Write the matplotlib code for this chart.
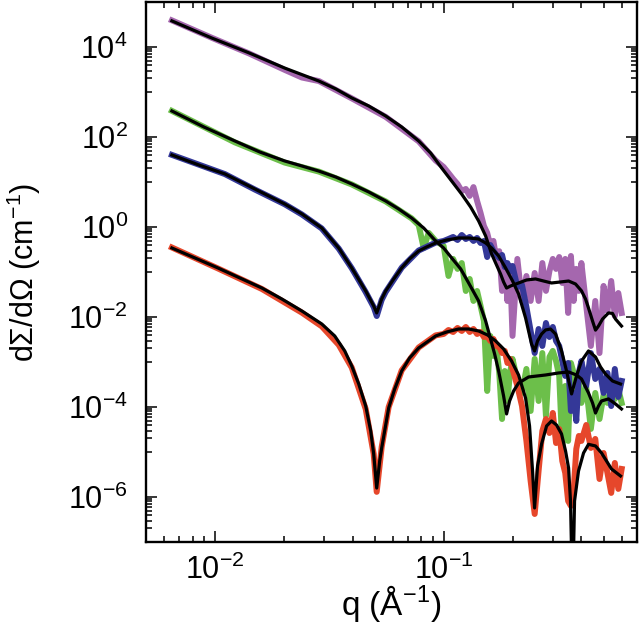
import matplotlib

matplotlib.use('Agg')

import matplotlib.pyplot as plt
from matplotlib.ticker import FixedLocator, NullFormatter

plt.rcParams['font.family'] = ['Liberation Sans', 'DejaVu Sans']
plt.rcParams['mathtext.fontset'] = 'custom'
plt.rcParams['mathtext.rm'] = 'Liberation Sans'
plt.rcParams['mathtext.it'] = 'Liberation Sans:italic'
plt.rcParams['mathtext.bf'] = 'Liberation Sans:bold'

# ---- measured data (low q part per sample, shared high q grid) ----
q_hi = [0.10, 0.105, 0.11, 0.115, 0.12, 0.125, 0.13, 0.135, 0.14, 0.145,
        0.15, 0.155, 0.16, 0.165, 0.17, 0.175, 0.18, 0.185, 0.19, 0.195,
        0.20, 0.21, 0.22, 0.23, 0.24, 0.25, 0.26, 0.27, 0.28, 0.29, 0.30,
        0.31, 0.32, 0.33, 0.34, 0.35, 0.36, 0.37, 0.38, 0.39, 0.40,
        0.42, 0.44, 0.46, 0.48, 0.50, 0.52, 0.54, 0.56, 0.58, 0.60]

purple_q_lo = [0.00649, 0.0097, 0.0141, 0.0202, 0.0240, 0.0285, 0.0397, 0.0558, 0.0778, 0.0923]
purple_I_lo = [3.9e4, 1.6e4, 7.2e3, 3.1e3, 2.1e3, 1.75e3, 720, 280, 80, 30]
purple_I_hi = [21.5, 15.8, 11.7, 9.0, 6.3, 7.0, 4.9, 7.7, 3.8, 2.05,
               1.05, 0.74, 0.38, 0.49, 0.195, 0.29, 0.038, 0.158, 0.0227, 0.136,
               0.0038, 0.195, 0.0227, 0.0815, 0.0227, 0.095, 0.0227, 0.158, 0.038, 0.105, 0.195,
               0.117, 0.215, 0.057, 0.195, 0.0123, 0.227, 0.0227, 0.117, 0.038, 0.158,
               0.0176, 0.00227, 0.0227, 0.00158, 0.0489, 0.0136, 0.063, 0.0105, 0.0341, 0.0123]

green_q_lo = [0.00649, 0.01223, 0.0202, 0.0285, 0.0397, 0.0558, 0.0725, 0.0778, 0.0818, 0.0860, 0.0923]
green_I_lo = [380, 76, 27, 17, 8.8, 3.7, 1.55, 1.1, 0.34, 0.74, 0.49]
green_I_hi = [0.378, 0.0815, 0.195, 0.117, 0.158, 0.0378, 0.0699, 0.0227, 0.0378, 0.0176,
              0.00815, 2.27e-4, 3.78e-3, 1.36e-3, 2.27e-3, 5.7e-4, 5.4e-5, 6.3e-4, 1.36e-4, 5.7e-4,
              1.17e-3, 3.78e-4, 2.05e-4, 7.0e-4, 8.15e-5, 1.17e-3, 1.36e-4, 1.58e-3, 6.3e-5, 1.29e-3, 1.76e-3,
              1.05e-3, 4.9e-4, 1.36e-5, 2.93e-4, 1.76e-5, 9.5e-4, 5.7e-4, 2.27e-4, 4.2e-4, 1.23e-4,
              2.78e-4, 3.25e-5, 2.05e-4, 5.4e-5, 1.85e-4, 1.23e-4, 2.27e-4, 1.5e-4, 2.5e-4, 1.23e-4]

blue_q_lo = [0.00649, 0.01106, 0.01495, 0.0202, 0.0240, 0.0293, 0.0348, 0.0397, 0.0456,
             0.0495, 0.0510, 0.0536, 0.0558, 0.0656, 0.0778, 0.0923]
blue_I_lo = [40, 15, 6.8, 3.2, 1.9, 0.93, 0.33, 0.12, 0.036, 0.0165, 0.0105, 0.024, 0.036, 0.125, 0.30, 0.45]
blue_I_hi = [0.489, 0.541, 0.600, 0.514, 0.664, 0.541, 0.600, 0.489, 0.570, 0.441,
             0.489, 0.215, 0.398, 0.293, 0.239, 0.205, 0.239, 0.129, 0.158, 0.105,
             0.136, 0.0464, 0.0514, 0.0167, 4.89e-3, 1.58e-3, 5.41e-3, 2.27e-3, 7.36e-3, 3.59e-3, 6.0e-3,
             2.93e-3, 2.27e-3, 1.05e-3, 4.89e-4, 9.5e-4, 8.15e-5, 2.05e-4, 4.89e-5, 5.7e-4, 1.05e-3,
             2.93e-4, 1.58e-3, 4.19e-4, 6.99e-4, 2.05e-4, 5.7e-4, 1.05e-4, 6.99e-4, 1.67e-4, 3.78e-4]

red_q_lo = [0.00649, 0.01031, 0.01604, 0.0240, 0.02933, 0.03479, 0.03966, 0.04564, 0.04946,
            0.05098, 0.05361, 0.05751, 0.06556, 0.07779, 0.09228]
red_I_lo = [0.35, 0.12, 0.042, 0.0125, 6.2e-3, 2.4e-3, 7.5e-4, 9e-5, 9e-6, 1.3e-6, 1.3e-5, 1e-4, 6.5e-4, 2.1e-3, 3.9e-3]
red_I_hi = [4.19e-3, 5.14e-3, 4.64e-3, 5.7e-3, 4.89e-3, 6.0e-3, 4.64e-3, 5.41e-3, 4.19e-3, 4.64e-3,
            3.59e-3, 3.78e-3, 2.93e-3, 3.24e-3, 2.27e-3, 2.15e-3, 1.58e-3, 1.76e-3, 9.5e-4, 1.17e-3,
            7.0e-4, 2.93e-4, 1.05e-4, 1.76e-5, 2.27e-6, 4.19e-7, 3.78e-6, 2.93e-5, 5.41e-5, 2.64e-5, 7.36e-5,
            1.58e-5, 3.24e-5, 6.31e-6, 3.41e-6, 8.15e-7, 6.31e-7, 1.36e-6, 1.17e-5, 2.27e-5, 1.76e-5,
            3.98e-5, 1.23e-5, 1.95e-5, 2.51e-6, 9.5e-6, 3.41e-6, 1.23e-6, 5.7e-6, 1.51e-6, 4.19e-6]

# ---- model fits ----
purple_fit_q = [0.00649, 0.0097, 0.0141, 0.0202, 0.0285, 0.03377, 0.0397, 0.04705, 0.0558, 0.06556,
                0.0778, 0.0877, 0.098, 0.1084, 0.1198, 0.1312, 0.1422, 0.1526, 0.1621, 0.1703,
                0.1774, 0.1828, 0.1884, 0.1962, 0.2126, 0.2304, 0.2522, 0.2734, 0.2962, 0.3243,
                0.3516, 0.3771, 0.4005, 0.417, 0.4297, 0.4475, 0.4611, 0.4753, 0.4948, 0.5254,
                0.547, 0.5637, 0.599]
purple_fit_I = [3.8e4, 1.58e4, 7.4e3, 3.4e3, 1.75e3, 1.17e3, 736, 489, 293, 167,
                81.5, 44.1, 20.5, 10.5, 5.4, 2.78, 1.36, 0.631, 0.251, 0.143,
                0.090, 0.060, 0.044, 0.0489, 0.057, 0.0664, 0.070, 0.063, 0.057, 0.060,
                0.063, 0.0541, 0.038, 0.0251, 0.0158, 8.15e-3, 5.1e-3, 6.31e-3, 9.0e-3, 0.0123,
                0.012, 9.0e-3, 6.3e-3]

green_fit_q = [0.00649, 0.00895, 0.01223, 0.01572, 0.0202, 0.0240, 0.02846, 0.03377, 0.03966, 0.04705,
               0.0558, 0.0636, 0.07249, 0.0818, 0.09228, 0.10, 0.1084, 0.1187, 0.1286, 0.1422,
               0.1526, 0.1604, 0.167, 0.1739, 0.1828, 0.1884, 0.1942, 0.2022, 0.2126, 0.2351,
               0.2789, 0.3178, 0.3516, 0.3808, 0.4005, 0.4297, 0.4475, 0.4611, 0.4753, 0.4898,
               0.5254, 0.5637, 0.599]
green_fit_I = [378, 167, 81.5, 46.4, 29.3, 22.7, 17.5, 12.9, 9.03, 6.0,
               3.78, 2.51, 1.58, 0.95, 0.489, 0.341, 0.205, 0.117, 0.057, 0.0227,
               8.15e-3, 3.24e-3, 1.51e-3, 6.31e-4, 1.76e-4, 7.0e-5, 1.36e-4, 2.27e-4, 3.41e-4, 4.64e-4,
               5.14e-4, 5.7e-4, 6.0e-4, 5.14e-4, 4.19e-4, 2.05e-4, 1.23e-4, 7.36e-5, 1.05e-4, 1.36e-4,
               1.51e-4, 1.17e-4, 9.03e-5]

blue_fit_q = [0.00649, 0.00851, 0.01106, 0.01495, 0.0202, 0.0240, 0.02933, 0.03479, 0.03966, 0.04564,
              0.04946, 0.05098, 0.05361, 0.0558, 0.0605, 0.06556, 0.0710, 0.07779, 0.0843, 0.09228,
              0.1031, 0.1163, 0.1286, 0.1422, 0.1526, 0.1621, 0.1739, 0.1865, 0.2001, 0.2126,
              0.2281, 0.2423, 0.2497, 0.2573, 0.268, 0.2789, 0.2932, 0.3084, 0.3276, 0.3445,
              0.3623, 0.3808, 0.4005, 0.4297, 0.4611, 0.4851, 0.5098, 0.547, 0.593]
blue_fit_I = [39.8, 23.9, 15.1, 6.99, 3.24, 1.95, 0.95, 0.341, 0.123, 0.0378,
              0.0176, 0.0123, 0.0251, 0.0378, 0.0699, 0.123, 0.195, 0.293, 0.36, 0.441,
              0.514, 0.570, 0.570, 0.541, 0.441, 0.341, 0.227, 0.123, 0.063, 0.0324,
              9.5e-3, 2.5e-3, 1.76e-3, 2.93e-3, 4.19e-3, 5.14e-3, 5.41e-3, 4.19e-3, 1.76e-3, 6.31e-4,
              1.95e-4, 4.89e-4, 1.05e-3, 1.76e-3, 1.29e-3, 7.74e-4, 5.41e-4, 3.78e-4, 3.24e-4]

red_fit_q = [0.00649, 0.00818, 0.01031, 0.01286, 0.01604, 0.01962, 0.0240, 0.02933, 0.03342, 0.03696,
             0.03966, 0.04255, 0.04564, 0.0480, 0.04946, 0.05098, 0.05254, 0.05361, 0.05751, 0.0611,
             0.06556, 0.0710, 0.07779, 0.09228, 0.1031, 0.1163, 0.1286, 0.1422, 0.1556, 0.1687,
             0.1828, 0.1981, 0.2126, 0.2281, 0.2374, 0.2447, 0.2497, 0.2573, 0.268, 0.2818,
             0.2962, 0.3115, 0.3276, 0.3411, 0.3516, 0.3585, 0.366, 0.3734, 0.3886, 0.4088,
             0.4297, 0.4611, 0.4898, 0.515, 0.5415, 0.593]
red_fit_I = [0.341, 0.205, 0.123, 0.0736, 0.0441, 0.0251, 0.0136, 6.99e-3, 3.78e-3, 1.76e-3,
             8.15e-4, 3.24e-4, 1.05e-4, 2.93e-5, 9.03e-6, 1.58e-6, 6.3e-6, 1.23e-5, 9.5e-5, 2.51e-4,
             6.31e-4, 1.23e-3, 2.05e-3, 3.78e-3, 4.64e-3, 5.41e-3, 5.41e-3, 4.89e-3, 3.98e-3, 2.93e-3,
             1.95e-3, 1.05e-3, 5.14e-4, 1.58e-4, 3.78e-5, 3.78e-6, 5.7e-7, 4.89e-6, 1.51e-5, 3.78e-5,
             4.89e-5, 3.98e-5, 2.51e-5, 1.05e-5, 4.41e-6, 8.15e-7, 5e-9, 8.15e-7, 3.78e-6, 9.5e-6,
             1.48e-5, 1.36e-5, 9.5e-6, 6.31e-6, 4.19e-6, 2.93e-6]

y_major = [1e-6, 1e-4, 1e-2, 1e0, 1e2, 1e4]
y_labels = ['$10^{-6}$', '$10^{-4}$', '$10^{-2}$', '$10^{0}$', '$10^{2}$', '$10^{4}$']

series = [
    (purple_q_lo + q_hi, purple_I_lo + purple_I_hi, '#a567ae'),
    (green_q_lo + q_hi, green_I_lo + green_I_hi, '#6cbf4a'),
    (blue_q_lo + q_hi, blue_I_lo + blue_I_hi, '#343898'),
    (red_q_lo + q_hi, red_I_lo + red_I_hi, '#e6472b'),
]
fits = [(purple_fit_q, purple_fit_I), (green_fit_q, green_fit_I),
        (blue_fit_q, blue_fit_I), (red_fit_q, red_fit_I)]

fig = plt.figure(figsize=(6.4, 6.42), dpi=100)
ax = fig.add_axes([0.2281, 0.1558, 0.7672, 0.8411])

for q, I, c in series:
    ax.plot(q, I, color=c, lw=4.3)
for q, I in fits:
    ax.plot(q, I, color='black', lw=2.3)

ax.set_xscale('log')
ax.set_yscale('log')
ax.set_xlim(0.005, 0.7)
ax.set_ylim(1e-7, 1e5)

ax.set_yticks(y_major)
ax.set_yticklabels(y_labels)
# minor ticks only in the decade below each labelled power
ax.yaxis.set_minor_locator(FixedLocator(
    [k * 10.0 ** e for e in (-7, -5, -3, -1, 1, 3) for k in range(1, 10)]))
ax.yaxis.set_minor_formatter(NullFormatter())
ax.xaxis.set_minor_formatter(NullFormatter())

ax.tick_params(which='both', direction='in', top=True, right=True, width=1.1, labelsize=22)
ax.tick_params(which='major', length=8)
ax.tick_params(which='minor', length=4.5)
ax.tick_params(axis='y', pad=13)
ax.tick_params(axis='x', pad=9)
for s in ax.spines.values():
    s.set_linewidth(1.7)

ax.set_xlabel('q (Å$^{-1}$)', fontsize=24)
ax.set_ylabel('dΣ/dΩ (cm$^{-1}$)', fontsize=22)
ax.xaxis.set_label_coords(0.5, -0.076)
ax.xaxis.label.set_va('top')
ax.yaxis.set_label_coords(-0.21, 0.5)

fig.savefig('out.png', dpi=100)
